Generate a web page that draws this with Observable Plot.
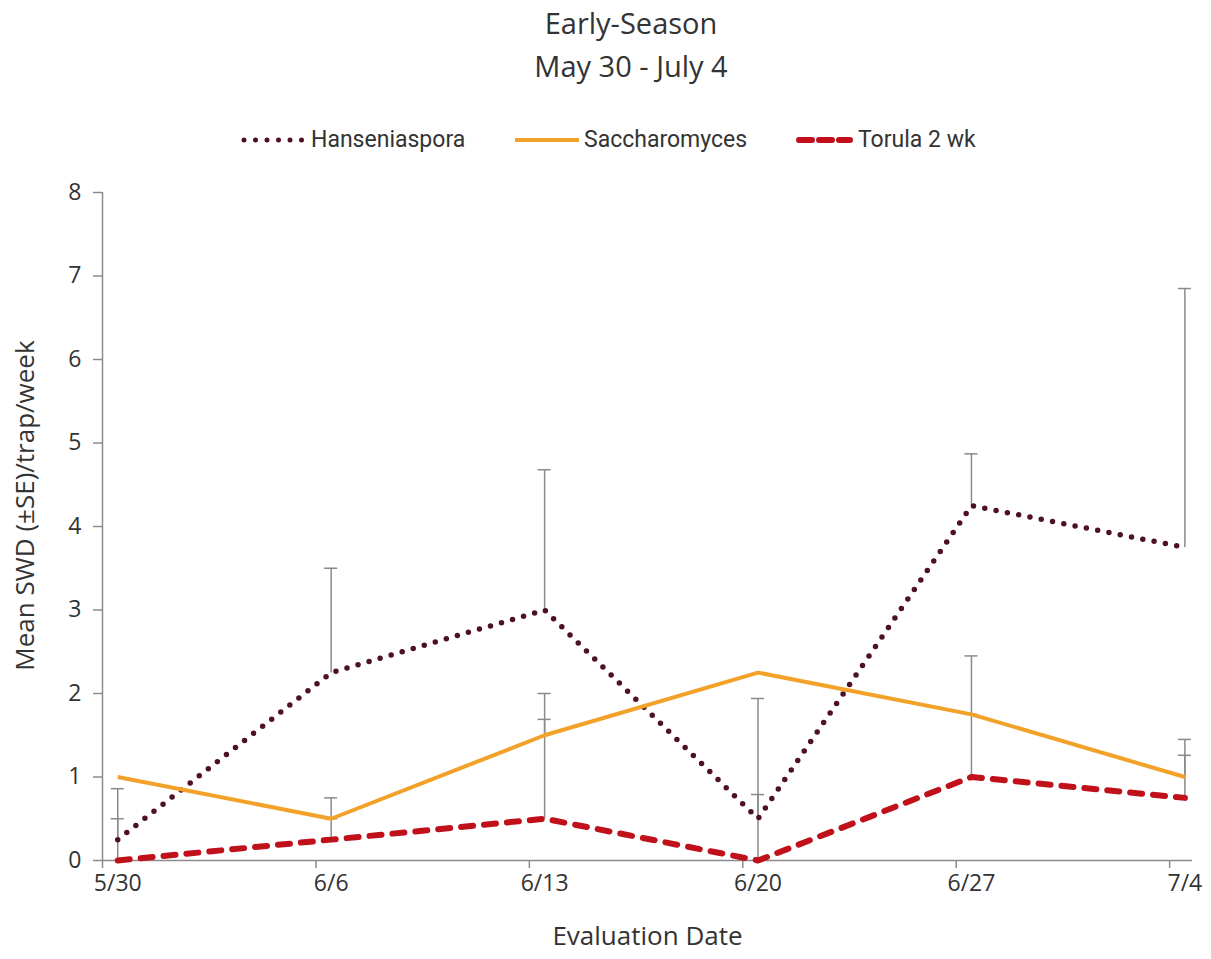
<!DOCTYPE html>
<html>
<head>
<meta charset="utf-8">
<script src="https://cdn.jsdelivr.net/npm/d3@7"></script>
<script src="https://cdn.jsdelivr.net/npm/@observablehq/plot@0.6"></script>
<style>
  html, body { margin: 0; padding: 0; background: #fff; }
  body { width: 1211px; height: 959px; position: relative; overflow: hidden; font-family: "Open Sans", "Noto Sans", sans-serif; color: #333; }
  #title { position: absolute; left: 0; top: 1px; width: 1262px; text-align: center; font-size: 29px; line-height: 43px; color: #333; }
  #legend { position: absolute; left: 0; top: 124px; width: 1211px; height: 32px;
            font-family: Roboto, "Open Sans", sans-serif; font-size: 23px; color: #333; }
  #legend svg, #legend span { position: absolute; top: 0; display: block; }
  #legend span { line-height: 32px; }
  #chart { position: absolute; left: 0; top: 175px; }
</style>
</head>
<body>
<div id="title">Early-Season<br>May 30 - July 4</div>
<div id="legend"></div>
<div id="chart"></div>
<script>
// Evaluation dates (2014 season)
const dates = ["2014-05-30", "2014-06-06", "2014-06-13", "2014-06-20", "2014-06-27", "2014-07-04"];
const seriesNames = ["Hanseniaspora", "Saccharomyces", "Torula 2 wk"];

// Mean SWD per trap per week
const hanseniaspora = [0.25, 2.25, 3.0, 0.5, 4.25, 3.75];
const saccharomyces = [1.0, 0.5, 1.5, 2.25, 1.75, 1.0];
const torula = [0.0, 0.25, 0.5, 0.0, 1.0, 0.75];

// Standard errors (plotted as plus-only bars)
const hanseniasporaSE = [0.61, 1.25, 1.68, 1.44, 0.62, 3.1];
const saccharomycesSE = [0, 0.25, 0.5, 0, 0.7, 0.45];
const torulaSE = [0.5, 0.25, 1.19, 0.79, 0.75, 0.51];

const yTicks = [0, 1, 2, 3, 4, 5, 6, 7, 8];

const colors = {"Hanseniaspora": "#4e1028", "Saccharomyces": "#f2a229", "Torula 2 wk": "#c0111b"};
const styles = {
  "Hanseniaspora": {strokeWidth: 5.5, strokeDasharray: "0 11.5", strokeLinecap: "round"},
  "Saccharomyces": {strokeWidth: 4, strokeDasharray: null, strokeLinecap: "butt"},
  "Torula 2 wk": {strokeWidth: 6, strokeDasharray: "12 11", strokeLinecap: "round"}
};

const parse = d3.utcParse("%Y-%m-%d");
const dateObjs = dates.map(parse);
const means = [hanseniaspora, saccharomyces, torula];
const ses = [hanseniasporaSE, saccharomycesSE, torulaSE];

const rows = seriesNames.flatMap((name, s) =>
  dateObjs.map((date, i) => ({series: name, date, value: means[s][i], se: ses[s][i]}))
);
const errRows = rows.filter(d => d.se > 0);

const halfDay = 12 * 3600 * 1000;
const tickDates = dateObjs.map(d => new Date(+d - halfDay));
const fmt = d => `${d.getUTCMonth() + 1}/${d.getUTCDate()}`;

const axisColor = "#8c8c8c";
const errColor = "#8a8a8a";

const chart = Plot.plot({
  width: 1211,
  height: 784,
  marginLeft: 102,
  marginRight: 19,
  marginTop: 17,
  marginBottom: 99,
  style: {fontFamily: "'Open Sans', 'Noto Sans', sans-serif", color: "#333", background: "white"},
  x: {type: "utc", domain: [new Date(+dateObjs[0] - halfDay), new Date(+dateObjs[5] + halfDay / 2)]},
  y: {domain: [0, 8]},
  marks: [
    // tick marks between the plotted dates
    Plot.axisX({ticks: tickDates, tickSize: 8, tickFormat: () => "", stroke: axisColor, strokeWidth: 1.5, label: null}),
    // date labels under each evaluation
    Plot.axisX({ticks: dateObjs, tickSize: 0, tickPadding: 14, tickFormat: fmt, fontSize: 23, fill: "#333", label: null}),
    Plot.axisY({ticks: yTicks, tickSize: 9, tickPadding: 12, fontSize: 23, fill: "#333", stroke: axisColor, strokeWidth: 1.5, label: null}),
    Plot.ruleY([0], {stroke: axisColor, strokeWidth: 1.5}),
    Plot.ruleX([dateObjs[0]], {x: () => new Date(+dateObjs[0] - halfDay), y1: 0, y2: 8, stroke: axisColor, strokeWidth: 1.5}),
    // error bars
    Plot.ruleX(errRows, {x: "date", y1: "value", y2: d => d.value + d.se, stroke: errColor, strokeWidth: 1.5}),
    Plot.ruleY(errRows, {y: d => d.value + d.se, x1: "date", x2: "date", insetLeft: -6.5, insetRight: -6.5, stroke: errColor, strokeWidth: 1.5}),
    // series lines
    ...seriesNames.map(name =>
      Plot.line(rows.filter(d => d.series === name), {
        x: "date", y: "value", stroke: colors[name], ...styles[name], strokeLinejoin: "round"
      })
    ),
    // axis titles
    Plot.text(["Evaluation Date"], {frameAnchor: "bottom", dy: 84, fontSize: 26, fill: "#333"}),
    Plot.text(["Mean SWD (±SE)/trap/week"], {frameAnchor: "left", textAnchor: "middle", rotate: -90, dx: -77, dy: -21, fontSize: 26, fill: "#333"})
  ]
});
document.getElementById("chart").appendChild(chart);

// legend: swatch start, swatch width, label start
const legendLayout = {
  "Hanseniaspora": [240, 66, 311],
  "Saccharomyces": [515, 64, 584],
  "Torula 2 wk": [795, 58, 858]
};
const legend = d3.select("#legend");
seriesNames.forEach(name => {
  const [sx, w, tx] = legendLayout[name];
  const st = styles[name];
  const svg = legend.append("svg").attr("width", w).attr("height", 32).style("left", sx + "px");
  svg.append("line")
    .attr("x1", name === "Saccharomyces" ? 0 : 4)
    .attr("x2", name === "Saccharomyces" ? w : w - 3)
    .attr("y1", 16).attr("y2", 16)
    .attr("stroke", colors[name])
    .attr("stroke-width", name === "Hanseniaspora" ? 5 : st.strokeWidth)
    .attr("stroke-dasharray", name === "Torula 2 wk" ? "13 7" : st.strokeDasharray)
    .attr("stroke-linecap", st.strokeLinecap);
  legend.append("span").style("left", tx + "px").text(name);
});
</script>
</body>
</html>
